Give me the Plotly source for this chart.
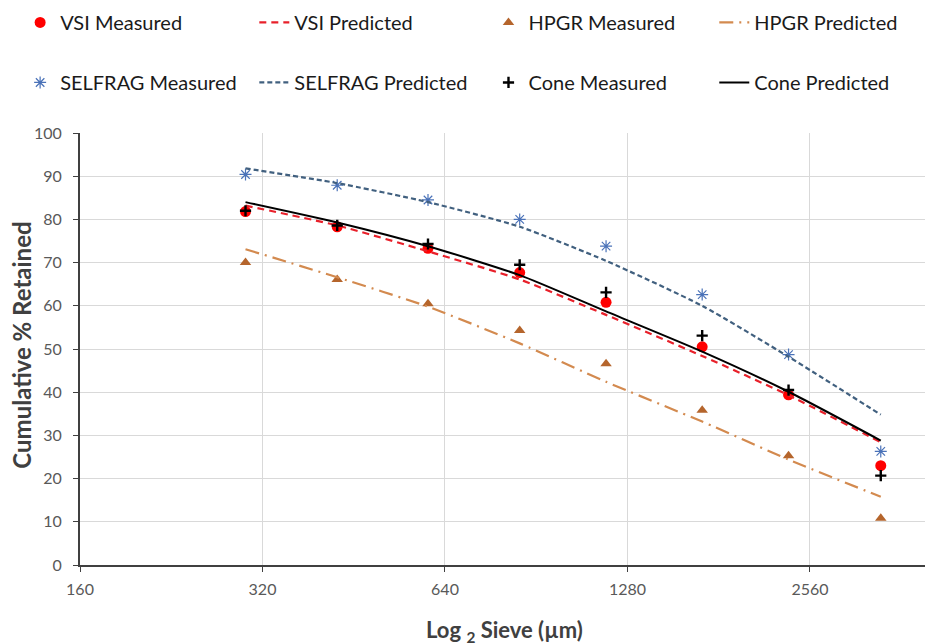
import plotly.graph_objects as go

sieve = [300, 425, 600, 850, 1180, 1700, 2360, 3350]

vsi_measured = [81.8, 78.3, 73.3, 67.7, 60.8, 50.5, 39.4, 23.0]
vsi_predicted = [83.2, 78.6, 72.6, 66.1, 57.9, 48.4, 39.3, 28.4]
hpgr_measured = [70.0, 66.1, 60.5, 54.3, 46.6, 35.8, 25.3, 10.8]
hpgr_predicted = [73.1, 66.6, 59.8, 51.3, 42.4, 33.2, 24.4, 15.8]
selfrag_measured = [90.4, 87.9, 84.5, 80.0, 73.8, 62.6, 48.7, 26.3]
selfrag_predicted = [91.8, 88.4, 84.0, 78.3, 70.4, 60.0, 48.2, 34.8]
cone_measured = [82.0, 78.6, 74.3, 69.5, 63.1, 53.1, 40.5, 20.7]
cone_predicted = [84.0, 79.3, 73.8, 67.1, 58.7, 49.4, 40.1, 28.8]

x_ticks = [160, 320, 640, 1280, 2560]
y_ticks = [0, 10, 20, 30, 40, 50, 60, 70, 80, 90, 100]

x_title = "Log <sub>2</sub> Sieve (µm)"
y_title = "Cumulative % Retained"

FONT = "Lato"
fig = go.Figure()

def meas(name, y, symbol, color, size, legend, group, lw=0):
    fig.add_trace(go.Scatter(
        x=sieve, y=y, name=name, mode="markers", legend=legend, legendgroup=group,
        marker=dict(symbol=symbol, color=color, size=size,
                    line=dict(color=color, width=lw))))

def pred(name, y, color, dash, width, legend, group):
    fig.add_trace(go.Scatter(
        x=sieve, y=y, name=name, mode="lines", legend=legend, legendgroup=group,
        line=dict(color=color, dash=dash, width=width, shape="spline", smoothing=0.6)))

# Column legends: row 1 then row 2 in each
meas("VSI Measured", vsi_measured, "circle", "#ff0000", 11, "legend", "a")
meas("SELFRAG Measured", selfrag_measured, "asterisk-open", "#4a72b8", 10, "legend", "b", lw=1.2)
pred("VSI Predicted", vsi_predicted, "#e8202a", "7px,5px", 2.2, "legend2", "c")
pred("SELFRAG Predicted", selfrag_predicted, "#41607f", "5px,3px", 2.2, "legend2", "d")
meas("HPGR Measured", hpgr_measured, "triangle-up", "#b5652c", 10, "legend3", "e")
meas("Cone Measured", cone_measured, "cross-thin-open", "#000000", 8, "legend3", "f", lw=2.4)
pred("HPGR Predicted", hpgr_predicted, "#d38a4f", "14px,6px,2px,6px", 2.2, "legend4", "g")
pred("Cone Predicted", cone_predicted, "#000000", "solid", 2.0, "legend4", "h")

legend_common = dict(
    orientation="v", xref="container", yref="paper",
    xanchor="left", yanchor="top", tracegroupgap=31,
    font=dict(family=FONT, size=20, color="#1a1a1a"),
    bgcolor="rgba(0,0,0,0)", itemclick=False,
)

LY = 1.301
fig.update_layout(
    width=933, height=644,
    margin=dict(l=72, r=8, t=125, b=87, autoexpand=False),
    paper_bgcolor="white", plot_bgcolor="white",
    font=dict(family=FONT, color="#595959"),
    legend=dict(x=0.013, y=LY, **legend_common),
    legend2=dict(x=0.264, y=LY, **legend_common),
    legend3=dict(x=0.515, y=LY, **legend_common),
    legend4=dict(x=0.757, y=LY, **legend_common),
    xaxis=dict(
        type="log", range=[2.2041, 3.6112], automargin=False,
        tickvals=x_ticks, ticktext=[str(v) for v in x_ticks],
        showgrid=True, gridcolor="#d9d9d9", gridwidth=1,
        showline=True, linecolor="#404040", linewidth=2,
        ticks="outside", ticklen=5, tickcolor="#404040",
        tickfont=dict(family=FONT, size=16, color="#595959"),
        ticklabelstandoff=4,
        zeroline=False,
    ),
    yaxis=dict(
        range=[0, 100], tickvals=y_ticks, automargin=False,
        showgrid=True, gridcolor="#d9d9d9", gridwidth=1,
        showline=True, linecolor="#404040", linewidth=2,
        ticks="outside", ticklen=5, tickcolor="#404040",
        tickfont=dict(family=FONT, size=16, color="#595959"),
        ticklabelstandoff=8,
        zeroline=False,
    ),
    annotations=[
        dict(text=x_title, xref="paper", yref="paper", x=0.498, y=-0.153,
             xanchor="center", yanchor="middle", showarrow=False,
             font=dict(family=FONT, size=22, color="#404040", weight="bold")),
        dict(text=y_title, xref="paper", yref="paper", x=-0.068, y=0.51,
             xanchor="center", yanchor="middle", showarrow=False, textangle=-90,
             font=dict(family=FONT, size=24, color="#404040", weight="bold")),
    ],
)

fig.write_html("out.html")
